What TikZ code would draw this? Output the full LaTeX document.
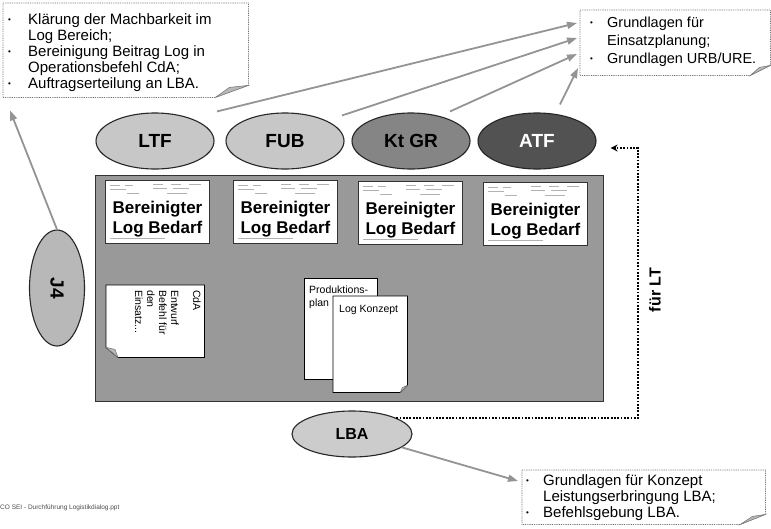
\documentclass[tikz,border=0pt]{standalone}
\usepackage{fontspec}
\setmainfont{Liberation Sans}
\usetikzlibrary{shapes.geometric,arrows.meta,calc}
\newcommand\mybul{\raisebox{1.6pt}{\fontsize{8}{8}\selectfont\textbullet}}
\begin{document}
\begin{tikzpicture}[x=1pt,y=-1pt,
  oval/.style={ellipse,draw=black!85,line width=1.1pt,inner sep=0pt,minimum width=118pt,minimum height=56pt,font=\fontsize{19}{19}\selectfont\bfseries},
  grlink/.style={draw=black!42,line width=1.8pt,-{Triangle[length=10pt,width=7pt]}},
  callout/.style={draw=black!55,line width=0.7pt,dash pattern=on 0.9pt off 0.9pt,fill=white},
  flap/.style={fill=black!28,draw=black!55,line width=0.5pt},
  frame/.style={inner sep=0pt,anchor=north west},
  docpage/.style={draw=black,line width=0.8pt,fill=white},
  bedbox/.style={draw=black!80,line width=0.9pt,fill=white,minimum width=104pt,minimum height=63pt,inner sep=0pt,anchor=north west},
  bedtext/.style={align=center,inner sep=0pt,font=\fontsize{17}{20}\selectfont\bfseries},
  formline/.style={draw=black!30,line width=0.6pt},
  calltext/.style={anchor=base west,inner sep=0pt},
  doctext/.style={inner sep=0pt,font=\fontsize{10.5}{12}\selectfont},
  dotlink/.style={draw=black,line width=1.8pt,dash pattern=on 1.8pt off 1.5pt,-{Stealth[length=7pt,width=7pt]}}
]
\useasboundingbox (0,0) rectangle (771,528);
\fill[white] (0,0) rectangle (771,528);

% ---------- big area ----------
\node[frame,draw=black!80,line width=1pt,fill=black!40,minimum width=508pt,minimum height=226pt] (area) at (95,175) {};

% ---------- Bereinigter boxes ----------
\node[bedbox] (B1) at (105,180) {};
\node[bedbox] (B2) at (233,180) {};
\node[bedbox] (B3) at (358,181) {};
\node[bedbox] (B4) at (483,182) {};
\foreach \b in {B1,B2,B3,B4}{
  \foreach \dx/\dy/\len in {5/5/10,20/5/8,48/4/10,66/4/10,84/4/12,5/9/16,48/8/14,68/8/16,22/13/12,62/13/20,5/58/55}
    \draw[formline] ($(\b.north west)+(\dx,\dy)$) -- ++(\len,0);
}
\node[bedtext] (B1t) at ($(B1.center)+(0,7)$) {Bereinigter\\Log Bedarf};
\node[bedtext] (B2t) at ($(B2.center)+(0,7)$) {Bereinigter\\Log Bedarf};
\node[bedtext] (B3t) at ($(B3.center)+(0,7)$) {Bereinigter\\Log Bedarf};
\node[bedtext] (B4t) at ($(B4.center)+(0,7)$) {Bereinigter\\Log Bedarf};

% ---------- CdA document ----------
\node[frame,minimum width=98pt,minimum height=72pt] (CD) at (106,285) {};
\draw[docpage] (CD.north west) -- (CD.north east) -- (CD.south east) -- ($(CD.south west)+(12,0)$) -- ($(CD.south west)+(0,-10)$) -- cycle;
\draw[flap] ($(CD.south west)+(12,0)$) -- ($(CD.south west)+(0,-10)$) -- ($(CD.south west)+(9,-8)$) -- cycle;
\node[doctext,rotate=-90,anchor=north west] (CDa) at (201,290) {CdA};
\node[doctext,rotate=-90,anchor=north west,align=left] (CDb) at (179,290) {Entwurf\\Befehl für\\den\\Einsatz...};

% ---------- Produktionsplan / Log Konzept ----------
\node[frame,docpage,minimum width=73pt,minimum height=101pt] (PP) at (304,278) {};
\node[calltext,font=\fontsize{10.5}{13}\selectfont] (PPt) at (309,293) {\begin{tabular}[t]{@{}l@{}}Produktions-\\plan\end{tabular}};
\node[frame,minimum width=74pt,minimum height=96pt] (LK) at (333,296) {};
\draw[docpage] (LK.north west) -- (LK.north east) -- ($(LK.south east)+(0,-7)$) -- ($(LK.south east)+(-7,0)$) -- (LK.south west) -- cycle;
\draw[flap] ($(LK.south east)+(0,-7)$) -- ($(LK.south east)+(-7,0)$) -- ($(LK.south east)+(-5,-5)$) -- cycle;
\node[calltext,font=\fontsize{10.5}{13}\selectfont] (LKt) at (339,312) {Log Konzept};

% ---------- ovals ----------
\node[oval,fill=black!22] (LTF) at (155,141) {LTF};
\node[oval,fill=black!22] (FUB) at (285,141) {FUB};
\node[oval,fill=black!48] (KtGR) at (411,141) {Kt GR};
\node[oval,fill=black!68,text=white] (ATF) at (537,141) {ATF};
\node[oval,fill=black!28,rotate=-90,minimum width=116pt,minimum height=55pt] (J4) at (57,288) {J4};
\node[oval,fill=black!20,minimum width=120pt,minimum height=46pt,font=\fontsize{16}{16}\selectfont\bfseries] (LBA) at (352,434) {LBA};

% ---------- callouts ----------
\node[frame,minimum width=245pt,minimum height=94pt] (TL) at (3,3) {};
\draw[callout] (TL.north west) -- (TL.north east) -- ($(TL.south east)+(0,-12)$) -- ($(TL.south east)+(-33,0)$) -- (TL.south west) -- cycle;
\draw[flap] ($(TL.south east)+(-33,0)$) -- ($(TL.south east)+(0,-12)$) -- ($(TL.south east)+(-19,-10)$) -- cycle;
\node[calltext,font=\fontsize{15}{16}\selectfont] (TLt) at (8,24) {\begin{tabular}[t]{@{}p{20pt}@{}l@{}}
\mybul & Klärung der Machbarkeit im\\
 & Log Bereich;\\
\mybul & Bereinigung Beitrag Log in\\
 & Operationsbefehl CdA;\\
\mybul & Auftragserteilung an LBA.
\end{tabular}};

\node[frame,minimum width=190pt,minimum height=65pt] (TR) at (580,10) {};
\draw[callout] (TR.north west) -- (TR.north east) -- ($(TR.south east)+(0,-10)$) -- ($(TR.south east)+(-20,0)$) -- (TR.south west) -- cycle;
\draw[flap] ($(TR.south east)+(-20,0)$) -- ($(TR.south east)+(0,-10)$) -- ($(TR.south east)+(-11,-8)$) -- cycle;
\node[calltext,font=\fontsize{14.5}{18}\selectfont] (TRt) at (590,27) {\begin{tabular}[t]{@{}p{17pt}@{}l@{}}
\mybul & Grundlagen für\\
 & Einsatzplanung;\\
\mybul & Grundlagen URB/URE.
\end{tabular}};

\node[frame,minimum width=243pt,minimum height=54pt] (BR) at (522,470) {};
\draw[callout] (BR.north west) -- (BR.north east) -- ($(BR.south east)+(0,-10)$) -- ($(BR.south east)+(-25,0)$) -- (BR.south west) -- cycle;
\draw[flap] ($(BR.south east)+(-25,0)$) -- ($(BR.south east)+(0,-10)$) -- ($(BR.south east)+(-13,-8)$) -- cycle;
\node[calltext,font=\fontsize{15}{16}\selectfont] (BRt) at (526,485) {\begin{tabular}[t]{@{}p{17pt}@{}l@{}}
\mybul & Grundlagen für Konzept\\
 & Leistungserbringung LBA;\\
\mybul & Befehlsgebung LBA.
\end{tabular}};

% ---------- connectors ----------
\draw[grlink] (J4.west) -- ($(TL.south west)+(7,13)$);
\draw[grlink] ($(LTF.north)+(62,-1)$) -- ($(TR.north west)+(-3,13)$);
\draw[grlink] ($(FUB.north)+(57,3)$) -- ($(TR.north west)+(-3,28)$);
\draw[grlink] ($(KtGR.north)+(39,-1)$) -- ($(TR.north west)+(-3,44)$);
\draw[grlink] ($(ATF.north)+(23,-8)$) -- ($(TR.north west)+(-2,58)$);
\draw[grlink] (LBA.-15) -- ($(BR.north west)+(-4,11)$);

\coordinate (turn) at (638,148);
\draw[dotlink] (LBA.20) -| (turn) -- ($(ATF.east)+(14,7)$);
\node[rotate=90,inner sep=0pt,font=\fontsize{16}{16}\selectfont\bfseries] (fuerLT) at (655,290) {für LT};

% ---------- footer ----------
\node[calltext,font=\fontsize{6.5}{7}\selectfont,text=black!70] (foot) at (0,509) {CO SEI - Durchführung Logistikdialog.ppt};
\end{tikzpicture}
\end{document}
